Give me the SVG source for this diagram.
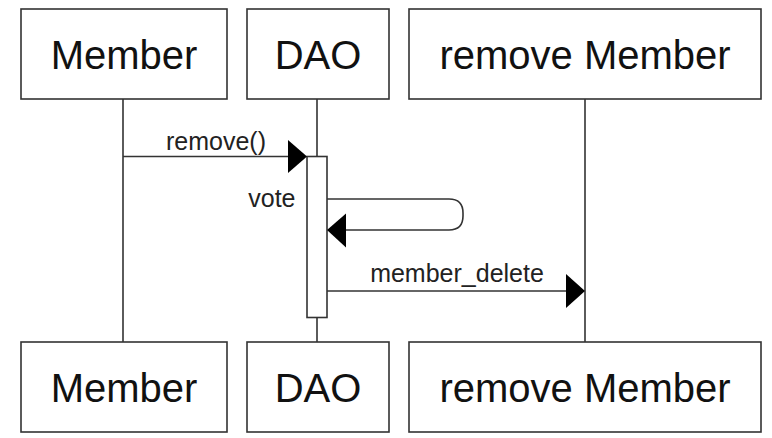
<svg xmlns="http://www.w3.org/2000/svg" width="772" height="438" viewBox="0 0 772 438">
<style>
.box{fill:#fff;stroke:#333;stroke-width:1.6}
.line{fill:none;stroke:#333;stroke-width:1.6}
.big{font-family:"Liberation Sans",Arial,sans-serif;font-size:40px;fill:#111;text-anchor:middle}
.lbl{font-family:"Liberation Sans",Arial,sans-serif;font-size:25px;fill:#222}
.head{fill:#000;stroke:none}
</style>
<rect width="772" height="438" fill="#fff"/>
<g id="lifelines">
<line class="line" x1="123" y1="99" x2="123" y2="342"/>
<line class="line" x1="317" y1="99" x2="317" y2="342"/>
<line class="line" x1="585" y1="99" x2="585" y2="342"/>
</g>
<g id="member-top"><rect class="box" x="21" y="9" width="206" height="90"/><text class="big" x="124" y="68.5">Member</text></g>
<g id="dao-top"><rect class="box" x="247" y="9" width="142" height="90"/><text class="big" x="318" y="68.5">DAO</text></g>
<g id="remove-top"><rect class="box" x="409" y="9" width="352" height="90"/><text class="big" x="585" y="68.5">remove Member</text></g>
<g id="member-bottom"><rect class="box" x="21" y="342" width="206" height="90"/><text class="big" x="124" y="401.5">Member</text></g>
<g id="dao-bottom"><rect class="box" x="247" y="342" width="142" height="90"/><text class="big" x="318" y="401.5">DAO</text></g>
<g id="remove-bottom"><rect class="box" x="409" y="342" width="352" height="90"/><text class="big" x="585" y="401.5">remove Member</text></g>
<g id="activation"><rect class="box" x="307" y="156.5" width="20" height="161"/></g>
<g id="connectors">
<line class="line" x1="123" y1="156.5" x2="290" y2="156.5"/>
<polygon class="head" points="307,156.5 288,140 288,173"/>
<text class="lbl" x="216" y="150" text-anchor="middle">remove()</text>
<path class="line" d="M327,199 H449 Q463,199 463,213 V216 Q463,230 449,230 H344"/>
<polygon class="head" points="327,230 346,213.5 346,247.5"/>
<text class="lbl" x="295.5" y="207" text-anchor="end">vote</text>
<line class="line" x1="327" y1="291" x2="568" y2="291"/>
<polygon class="head" points="585,291 566,274 566,308"/>
<text class="lbl" x="457" y="281.5" text-anchor="middle">member_delete</text>
</g>
</svg>
